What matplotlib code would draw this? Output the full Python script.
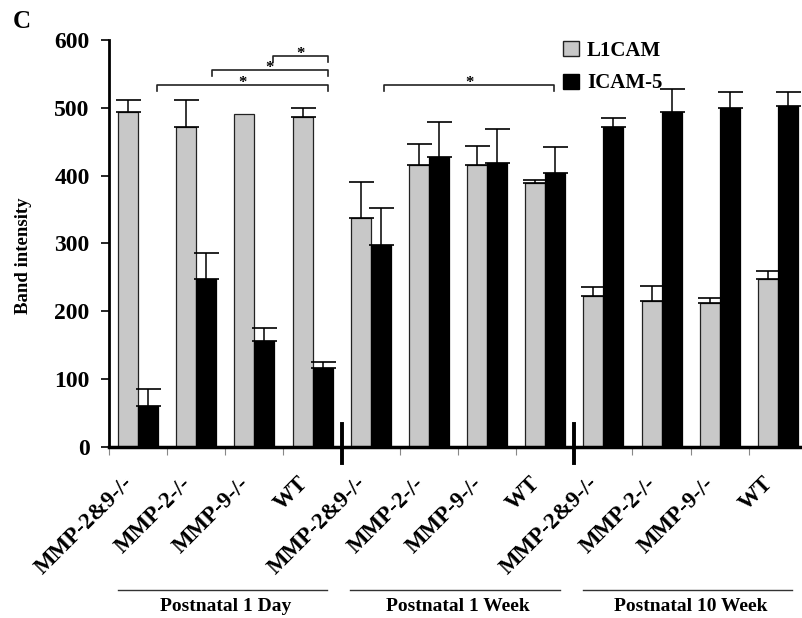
import numpy as np
import matplotlib
matplotlib.use("Agg")
import matplotlib.pyplot as plt
from matplotlib.patches import Patch
from matplotlib.transforms import ScaledTranslation

plt.rcParams['font.family'] = ['Liberation Serif', 'DejaVu Serif']
plt.rcParams['font.weight'] = 'bold'

# data
genotypes = ["MMP-2&9-/-", "MMP-2-/-", "MMP-9-/-", "WT"] * 3
ages = ["Postnatal 1 Day", "Postnatal 1 Week", "Postnatal 10 Week"]
l1cam = [494, 471, 491, 487, 338, 416, 416, 389, 223, 215, 212, 248]
l1cam_err = [18, 41, 0, 13, 53, 30, 28, 5, 13, 23, 7, 11]
icam5 = [60, 248, 156, 117, 298, 428, 418, 404, 472, 494, 500, 503]
icam5_err = [25, 38, 19, 9, 54, 51, 51, 38, 13, 34, 23, 20]

# significance brackets: (x left, x right, y)
brackets = [(0.33, 3.26, 534), (1.27, 3.26, 556), (2.32, 3.26, 577), (4.23, 7.15, 534)]

x = np.arange(len(genotypes))
w = 0.344
gray = "#c8c8c8"

fig = plt.figure(figsize=(8.02, 6.18), dpi=100)
ax = fig.add_axes([0.1359, 0.2767, 0.8703, 0.6586])

ax.bar(x - w / 2, l1cam, w, color=gray, edgecolor="#222222", linewidth=0.9, zorder=2)
ax.bar(x + w / 2, icam5, w, color="black", edgecolor="black", linewidth=0.9, zorder=2)

for xs, vals, errs in [(x - w / 2, l1cam, l1cam_err), (x + w / 2, icam5, icam5_err)]:
    vals = np.array(vals)
    errs = np.array(errs)
    m = errs > 0
    ax.errorbar(xs[m], vals[m], yerr=[np.zeros(m.sum()), errs[m]], fmt="none",
                ecolor="black", elinewidth=1.1, capsize=9, capthick=1.2, zorder=3)

for x1, x2, y in brackets:
    ax.plot([x1, x1, x2, x2], [y - 9, y, y, y - 9], color="#222222", lw=1.2, clip_on=False)
    ax.text((x1 + x2) / 2, y + 2, "*", ha="center", va="center", fontsize=12)

ax.set_ylim(0, 600)
ax.set_xlim(-0.5, 11.5)
ax.set_yticks(range(0, 601, 100))
ax.tick_params(axis="y", direction="out", length=6, width=1.2, pad=8, labelsize=17)

# boundary ticks below the axis, labels at group centres
ax.set_xticks(np.arange(-0.5, 11.5, 1.0))
ax.set_xticklabels([])
ax.tick_params(axis="x", which="major", direction="out", length=6, width=0.8, color="#888888")
ax.set_xticks(x, minor=True)
ax.set_xticklabels(genotypes, minor=True, rotation=45, ha="right", va="center",
                   rotation_mode="anchor", fontsize=16.5)
ax.tick_params(axis="x", which="minor", length=0, pad=24)
offset = ScaledTranslation(-8 / 100, 0, fig.dpi_scale_trans)
for lab in ax.get_xticklabels(minor=True):
    lab.set_transform(lab.get_transform() + offset)

for s in ["top", "right"]:
    ax.spines[s].set_visible(False)
ax.spines["left"].set_linewidth(2)
ax.spines["bottom"].set_linewidth(2.5)

# thick separators between the age groups
tr = ax.get_xaxis_transform()
for sep in [3.5, 7.5]:
    ax.plot([sep, sep], [0.0565, -0.04], color="black", lw=2.8, transform=tr, clip_on=False)

# age group lines and labels
for i, age in enumerate(ages):
    start = i * 4 - 0.5
    ax.plot([start + 0.15, start + 3.75], [-0.351, -0.351], color="#333333", lw=1,
            transform=tr, clip_on=False)
    ax.text(start + 2, -0.392, age, transform=tr, ha="center", va="center", fontsize=14)

ax.legend(handles=[Patch(facecolor=gray, edgecolor="#222222", label="L1CAM"),
                   Patch(facecolor="black", edgecolor="black", label="ICAM-5")],
          loc="upper left", bbox_to_anchor=(563 / 802, 1 - 41 / 618),
          bbox_transform=fig.transFigure, frameon=False, fontsize=15,
          handlelength=0.75, handleheight=0.75, handletextpad=0.4,
          labelspacing=0.6, borderpad=0, borderaxespad=0)

fig.text(24 / 802, 1 - 256 / 618, "Band intensity", rotation=90, ha="center", va="center",
         fontsize=13.5)
fig.text(22 / 802, 1 - 21 / 618, "C", ha="center", va="center", fontsize=18)

fig.savefig("out.png", dpi=100)
